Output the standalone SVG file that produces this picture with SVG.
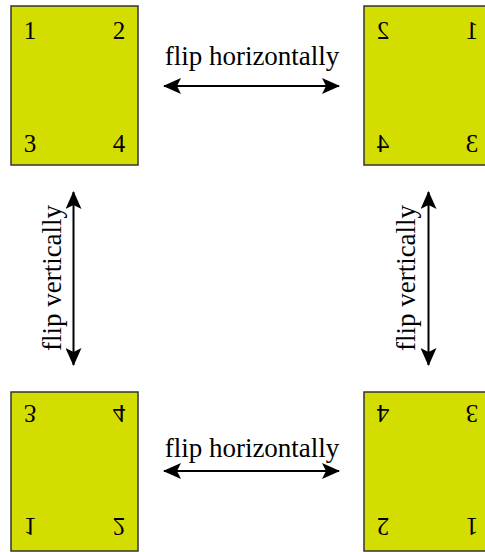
<svg xmlns="http://www.w3.org/2000/svg" width="485" height="552" viewBox="0 0 485 552">
<style>
.box{fill:#d4dd00;stroke:#333;stroke-width:1.5}
.d{font-family:"Liberation Serif",serif;font-size:25px;fill:#000;text-anchor:middle}
.lbl{font-family:"Liberation Serif",serif;font-size:27px;fill:#000;text-anchor:middle}
.ln{stroke:#000;stroke-width:2;fill:none}
</style>
<defs>
<marker id="ah" viewBox="0 0 18 16" refX="17" refY="8" markerWidth="18" markerHeight="16" markerUnits="userSpaceOnUse" orient="auto-start-reverse">
<path d="M0,0 L18,8 L0,16 L4,8 Z" fill="#000"/>
</marker>
<g id="card">
<rect class="box" x="11" y="6" width="127" height="159"/>
<text class="d" x="30" y="39">1</text>
<text class="d" x="119" y="39">2</text>
<text class="d" x="30" y="152">3</text>
<text class="d" x="119" y="152">4</text>
</g>
</defs>
<g id="node-original"><use href="#card"/></g>
<g id="node-hflip" transform="matrix(-1,0,0,1,502,0)"><use href="#card"/></g>
<g id="node-vflip" transform="matrix(1,0,0,-1,0,557)"><use href="#card"/></g>
<g id="node-both" transform="matrix(-1,0,0,-1,502,557)"><use href="#card"/></g>
<g id="connectors">
<line class="ln" x1="164" y1="86" x2="339" y2="86" marker-start="url(#ah)" marker-end="url(#ah)"/>
<line class="ln" x1="164" y1="471" x2="339" y2="471" marker-start="url(#ah)" marker-end="url(#ah)"/>
<line class="ln" x1="73.5" y1="192" x2="73.5" y2="365" marker-start="url(#ah)" marker-end="url(#ah)"/>
<line class="ln" x1="428.5" y1="192" x2="428.5" y2="365" marker-start="url(#ah)" marker-end="url(#ah)"/>
</g>
<g id="labels">
<text class="lbl" x="252" y="65">flip horizontally</text>
<text class="lbl" x="252" y="457">flip horizontally</text>
<text class="lbl" transform="translate(61,278) rotate(-90)">flip vertically</text>
<text class="lbl" transform="translate(415,278) rotate(-90)">flip vertically</text>
</g>
</svg>
